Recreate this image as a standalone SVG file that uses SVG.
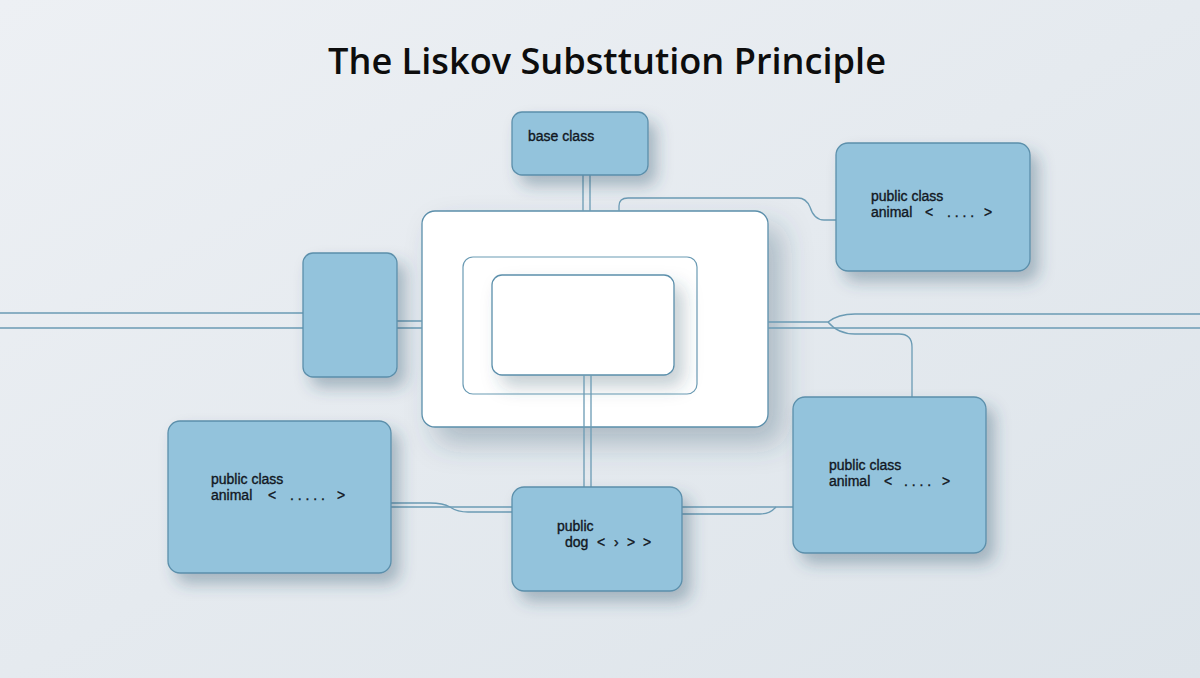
<svg xmlns="http://www.w3.org/2000/svg" width="1200" height="678" viewBox="0 0 1200 678">
  <defs>
    <linearGradient id="bg" x1="0" y1="0" x2="1" y2="1">
      <stop offset="0" stop-color="#edf0f4"/>
      <stop offset="0.5" stop-color="#e5eaef"/>
      <stop offset="1" stop-color="#dde4ea"/>
    </linearGradient>
    <filter id="sh" x="-20%" y="-20%" width="150%" height="160%">
      <feDropShadow dx="8" dy="10" stdDeviation="8" flood-color="#2f4f66" flood-opacity="0.35"/>
    </filter>
    <filter id="shBig" x="-20%" y="-20%" width="150%" height="160%">
      <feDropShadow dx="14" dy="16" stdDeviation="14" flood-color="#2f4f66" flood-opacity="0.3"/>
    </filter>
    <filter id="shIn" x="-20%" y="-20%" width="150%" height="170%">
      <feDropShadow dx="9" dy="11" stdDeviation="9" flood-color="#2f4f66" flood-opacity="0.28"/>
    </filter>
  </defs>
  <style>
    .box { fill: #93c3dc; stroke: #5b8fab; stroke-width: 1.3; }
    .white { fill: #ffffff; stroke: #5b8fab; stroke-width: 1.3; }
    .outline { fill: none; stroke: #6b9bb4; stroke-width: 1.2; }
    .conn { fill: none; stroke: #6b9bb4; stroke-width: 1.3; }
    .lbl { font-family: "Liberation Sans", Arial, sans-serif; font-size: 14px; fill: #111722; stroke: #111722; stroke-width: 0.35; }
    .title { font-family: "Open Sans", "Liberation Sans", sans-serif; font-size: 36px; font-weight: 600; fill: #0d0d0d; }
  </style>

  <rect x="0" y="0" width="1200" height="678" fill="url(#bg)"/>

  <text class="title" x="328" y="74" textLength="558" lengthAdjust="spacingAndGlyphs">The Liskov Substtution Principle</text>

  <g id="node-center">
    <rect class="white" x="422" y="211" width="346" height="216" rx="13" filter="url(#shBig)"/>
    <rect class="outline" x="463" y="257" width="234" height="137" rx="10"/>
    <rect class="white" x="492" y="275" width="182" height="100" rx="10" filter="url(#shIn)"/>
  </g>

  <g id="connectors">
    <path class="conn" d="M583,175 V211 M590,175 V211"/>
    <path class="conn" d="M619,211 V206 Q619,198 628,198 H798 Q806,198 810,207 Q814,220 824,220 H836"/>
    <path class="conn" d="M0,313 H303 M0,328 H303"/>
    <path class="conn" d="M397,321 H422 M397,328 H422"/>
    <path class="conn" d="M768,322 H828 Q838,314 855,314 H1200"/>
    <path class="conn" d="M828,322 Q838,334 855,334 H899 Q912,334 912,347 V397"/>
    <path class="conn" d="M768,328 H1200"/>
    <path class="conn" d="M584,375 V487 M591,375 V487"/>
    <path class="conn" d="M391,503 H430 Q443,503 450,507 Q457,512 468,512 H512"/>
    <path class="conn" d="M391,507 H512"/>
    <path class="conn" d="M682,507 H793"/>
    <path class="conn" d="M682,514 H760 Q770,514 776,507"/>
  </g>

  <g id="node-base">
    <rect class="box" x="512" y="112" width="136" height="63" rx="10" filter="url(#sh)"/>
    <text class="lbl" x="528" y="141">base class</text>
  </g>

  <g id="node-left-small">
    <rect class="box" x="303" y="253" width="94" height="124" rx="10" filter="url(#sh)"/>
  </g>

  <g id="node-top-right">
    <rect class="box" x="836" y="143" width="194" height="128" rx="12" filter="url(#sh)"/>
    <text class="lbl"><tspan x="871" y="201">public class</tspan><tspan x="871" y="217">animal</tspan><tspan x="925" y="217">&lt;</tspan><tspan x="947" y="217">. . . .</tspan><tspan x="984" y="217">&gt;</tspan></text>
  </g>

  <g id="node-bottom-left">
    <rect class="box" x="168" y="421" width="223" height="152" rx="12" filter="url(#sh)"/>
    <text class="lbl"><tspan x="211" y="484">public class</tspan><tspan x="211" y="500">animal</tspan><tspan x="268" y="500">&lt;</tspan><tspan x="290" y="500">. . . . .</tspan><tspan x="337" y="500">&gt;</tspan></text>
  </g>

  <g id="node-dog">
    <rect class="box" x="512" y="487" width="170" height="104" rx="12" filter="url(#sh)"/>
    <text class="lbl"><tspan x="557" y="531">public</tspan><tspan x="565" y="547">dog</tspan><tspan x="597" y="547">&lt;</tspan><tspan x="614" y="547">›</tspan><tspan x="627" y="547">&gt;</tspan><tspan x="643" y="547">&gt;</tspan></text>
  </g>

  <g id="node-bottom-right">
    <rect class="box" x="793" y="397" width="193" height="156" rx="12" filter="url(#sh)"/>
    <text class="lbl"><tspan x="829" y="470">public class</tspan><tspan x="829" y="486">animal</tspan><tspan x="884" y="486">&lt;</tspan><tspan x="904" y="486">. . . .</tspan><tspan x="942" y="486">&gt;</tspan></text>
  </g>
</svg>
